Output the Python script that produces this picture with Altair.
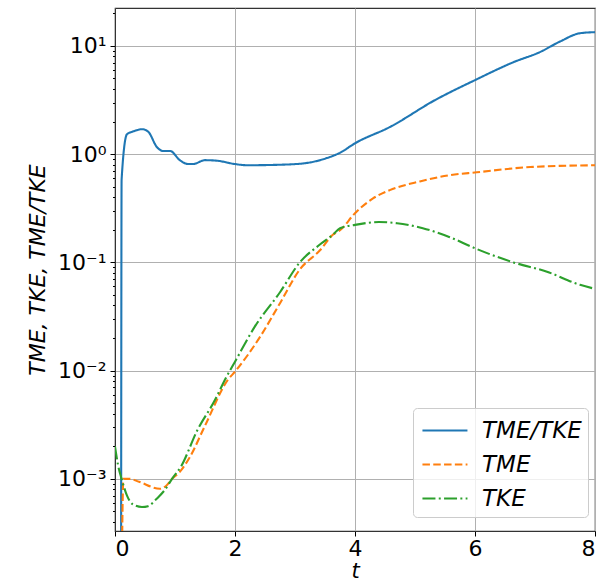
import altair as alt
import pandas as pd

# ---- data ----
ratio_t = [0.10, 0.11, 0.20, 0.30, 0.45, 0.55, 0.70, 0.80, 0.92, 1.08, 1.22, 1.30, 1.50, 1.70,
           2.00, 2.20, 2.80, 3.20, 3.53, 3.75, 4.00, 4.58, 5.33, 6.00, 6.64, 7.08, 7.42,
           7.75, 8.00]
ratio_v = [1e-5, 0.58, 1.53, 1.62, 1.70, 1.62, 1.16, 1.07, 1.07, 0.88, 0.81, 0.81, 0.88, 0.87,
           0.81, 0.79, 0.80, 0.83, 0.92, 1.03, 1.26, 1.78, 3.15, 4.83, 7.07, 8.76, 11.0,
           13.1, 13.4]

tme_t = [0.11, 0.12, 0.14, 0.25, 0.40, 0.75, 0.85, 0.95, 1.08, 1.25, 1.50, 1.88, 2.00, 2.42,
         2.75, 3.08, 3.42, 3.63, 3.75, 4.00, 4.30, 4.58, 5.08, 5.58, 6.03, 6.92, 8.00]
tme_v = [1e-5, 3e-4, 1.0e-3, 1.0e-3, 9.4e-4, 8.1e-4, 8.6e-4, 1.0e-3, 1.16e-3, 1.6e-3, 3.1e-3,
         8.2e-3, 9.8e-3, 0.0206, 0.042, 0.086, 0.13, 0.18, 0.198, 0.285, 0.39, 0.465, 0.56,
         0.64, 0.68, 0.76, 0.79]

tke_t = [0.00, 0.05, 0.11, 0.20, 0.30, 0.45, 0.55, 0.70, 0.83, 0.95, 1.10, 1.37, 1.67, 1.83,
         2.00, 2.33, 2.75, 3.08, 3.42, 3.63, 3.75, 4.00, 4.40, 4.70, 5.13, 5.58, 6.00, 6.64,
         7.20, 7.75, 8.00]
tke_v = [2.0e-3, 1.35e-3, 1.0e-3, 7.0e-4, 5.8e-4, 5.5e-4, 5.6e-4, 6.6e-4, 7.9e-4, 1.0e-3,
         1.3e-3, 2.8e-3, 5.4e-3, 8.2e-3, 1.21e-2, 2.55e-2, 0.053, 0.10, 0.147, 0.18, 0.207,
         0.222, 0.236, 0.23, 0.207, 0.171, 0.135, 0.10, 0.082, 0.062, 0.057]

series_names = ["TME/TKE", "TME", "TKE"]
series_colors = ["#1f77b4", "#ff7f0e", "#2ca02c"]
series_dashes = [[1, 0], [7.5, 3.3], [13, 3.3, 2, 3.3]]

x_ticks = [0, 2, 4, 6, 8]
y_major = [1e-3, 1e-2, 1e-1, 1e0, 1e1]
y_labels = ["10⁻³", "10⁻²", "10⁻¹", "10⁰", "10¹"]

# ---- build table ----
rows = []
for name, ts, vs in [("TME/TKE", ratio_t, ratio_v), ("TME", tme_t, tme_v), ("TKE", tke_t, tke_v)]:
    for i, (t, v) in enumerate(zip(ts, vs)):
        rows.append({"t": t, "v": v, "series": name, "order": i})
df = pd.DataFrame(rows)

y_minor = []
for d in [1e-4, 1e-3, 1e-2, 1e-1, 1e0, 1e1]:
    for k in range(1, 10):
        val = round(k * d, 10)
        if 3.3e-4 <= val <= 22.4:
            y_minor.append(val)

label_expr = " : ".join(
    f"datum.value == {v} ? '{l}'" for v, l in zip(y_major, y_labels)
) + " : ''"
major_test = "indexof([0.001, 0.01, 0.1, 1, 10], datum.value) >= 0"

chart = alt.Chart(df).mark_line(clip=True, strokeWidth=2.1, interpolate="monotone").encode(
    x=alt.X("t:Q", title="t",
            scale=alt.Scale(domain=[0, 8], nice=False, zero=False),
            axis=alt.Axis(values=x_ticks, format="d", tickSize=5, labelPadding=2,
                          titleBaseline="alphabetic", titleY=46, titleFontSize=21)),
    y=alt.Y("v:Q", title="TME, TKE, TME/TKE",
            scale=alt.Scale(type="log", domain=[3.3e-4, 22.4], nice=False),
            axis=alt.Axis(values=y_minor, labelExpr=label_expr,
                          tickSize={"condition": {"test": major_test, "value": 5}, "value": 2.5},
                          gridOpacity={"condition": {"test": major_test, "value": 1}, "value": 0},
                          labelPadding=4, titlePadding=8)),
    color=alt.Color("series:N", title=None,
                    scale=alt.Scale(domain=series_names, range=series_colors),
                    legend=alt.Legend(orient="none", legendX=298, legendY=400,
                                      symbolType="M-0.87,0H2.13", symbolSize=900,
                                      symbolStrokeWidth=2.1, labelFontSize=23,
                                      labelFont="DejaVu Sans", labelFontStyle="italic",
                                      labelColor="black", fillColor="rgba(255,255,255,0.8)",
                                      strokeColor="#cccccc", cornerRadius=4, padding=6,
                                      rowPadding=5, labelOffset=30)),
    strokeDash=alt.StrokeDash("series:N", title=None,
                              scale=alt.Scale(domain=series_names, range=series_dashes)),
    order="order:Q",
).properties(
    width=480, height=523,
    autosize=alt.AutoSizeParams(type="none"),
    padding={"left": 115, "top": 8, "right": 21, "bottom": 51},
).configure_axis(
    labelFont="DejaVu Sans", labelFontSize=22, labelColor="black",
    titleFont="DejaVu Sans", titleFontSize=22, titleFontStyle="italic",
    titleFontWeight="normal", titleColor="black",
    gridColor="#b0b0b0", gridWidth=1, tickColor="black", domainColor="#333333",
).configure_view(stroke="#333333", strokeWidth=1.2)

chart.save("out.html", embed_options={"renderer": "svg", "actions": False})
